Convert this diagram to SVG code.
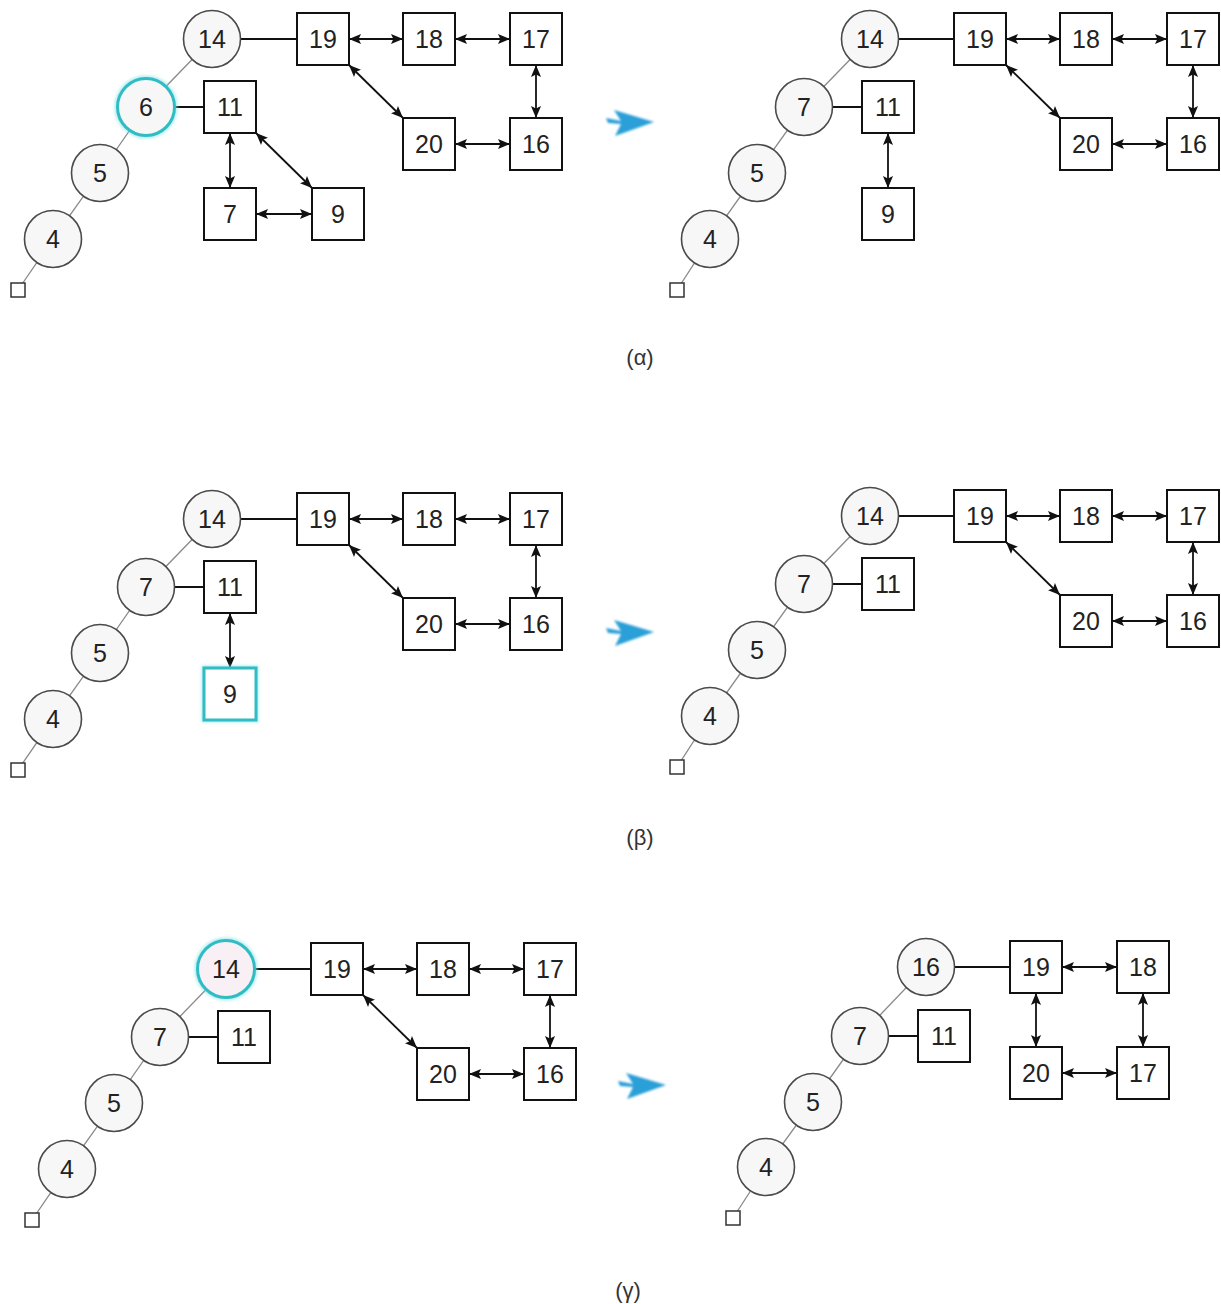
<svg xmlns="http://www.w3.org/2000/svg" width="1221" height="1304" viewBox="0 0 1221 1304">
  <defs>
    <style>
      .c { fill: #f7f7f7; stroke: #4a4a4a; stroke-width: 1.6; }
      .s { fill: #fff; stroke: #111; stroke-width: 2; }
      .nil { fill: #fff; stroke: #333; stroke-width: 1.5; }
      .hl { stroke: #2fbcc4; stroke-width: 3; }
      .t { font-family: "Liberation Sans", Arial, sans-serif; font-size: 25px; fill: #222; text-anchor: middle; }
      .cap { font-family: "Liberation Sans", Arial, sans-serif; font-size: 22px; fill: #333; text-anchor: middle; }
      .tree { stroke: #8a8a8a; stroke-width: 1.3; fill: none; }
      .link { stroke: #111; stroke-width: 1.8; fill: none; }
      .dbl { stroke: #111; stroke-width: 1.8; fill: none; marker-start: url(#ah); marker-end: url(#ah); }
      .step { fill: #2a9fd8; filter: url(#soft); }
    </style>
    <marker id="ah" viewBox="0 0 10 10" refX="10" refY="5" markerWidth="12" markerHeight="12" markerUnits="userSpaceOnUse" orient="auto-start-reverse">
      <path d="M0,0.8 L10,5 L0,9.2 L2,5 Z" fill="#111"/>
    </marker>
    <filter id="soft" x="-20%" y="-20%" width="140%" height="140%">
      <feGaussianBlur stdDeviation="1.2"/>
    </filter>
    <filter id="glow" x="-30%" y="-30%" width="160%" height="160%">
      <feGaussianBlur stdDeviation="1.5"/>
    </filter>
    <path id="stepArrow" d="M26,0 L-14,-12 L-7,-1 L-22,-4 L-20,1 L-7,2 L-13,14 Z"/>
  </defs>

  <rect width="1221" height="1304" fill="#ffffff"/>

  <!-- ===================== connectors ===================== -->
  <g id="connectors">
    <!-- (α) before -->
    <path class="tree" d="M212,39 L146,107 L100,173 L53,239 L18,290"/>
    <path class="link" d="M241,39 H297 M175,107 H204"/>
    <path class="dbl" d="M349,39 H403"/>
    <path class="dbl" d="M455,39 H510"/>
    <path class="dbl" d="M536,65 V118"/>
    <path class="dbl" d="M455,144 H510"/>
    <path class="dbl" d="M349,65 L403,118"/>
    <path class="dbl" d="M230,133 V188"/>
    <path class="dbl" d="M256,133 L312,188"/>
    <path class="dbl" d="M256,214 H312"/>

    <!-- (α) after -->
    <path class="tree" d="M870,39 L804,107 L757,173 L710,239 L677,290"/>
    <path class="link" d="M899,39 H954 M833,107 H862"/>
    <path class="dbl" d="M1006,39 H1060"/>
    <path class="dbl" d="M1112,39 H1167"/>
    <path class="dbl" d="M1193,65 V118"/>
    <path class="dbl" d="M1112,144 H1167"/>
    <path class="dbl" d="M1006,65 L1060,118"/>
    <path class="dbl" d="M888,133 V188"/>

    <!-- (β) before -->
    <path class="tree" d="M212,519 L146,587 L100,653 L53,719 L18,770"/>
    <path class="link" d="M241,519 H297 M175,587 H204"/>
    <path class="dbl" d="M349,519 H403"/>
    <path class="dbl" d="M455,519 H510"/>
    <path class="dbl" d="M536,545 V598"/>
    <path class="dbl" d="M455,624 H510"/>
    <path class="dbl" d="M349,545 L403,598"/>
    <path class="dbl" d="M230,613 V668"/>

    <!-- (β) after -->
    <path class="tree" d="M870,516 L804,584 L757,650 L710,716 L677,767"/>
    <path class="link" d="M899,516 H954 M833,584 H862"/>
    <path class="dbl" d="M1006,516 H1060"/>
    <path class="dbl" d="M1112,516 H1167"/>
    <path class="dbl" d="M1193,542 V595"/>
    <path class="dbl" d="M1112,621 H1167"/>
    <path class="dbl" d="M1006,542 L1060,595"/>

    <!-- (γ) before -->
    <path class="tree" d="M226,969 L160,1037 L114,1103 L67,1169 L32,1220"/>
    <path class="link" d="M255,969 H311 M189,1037 H218"/>
    <path class="dbl" d="M363,969 H417"/>
    <path class="dbl" d="M469,969 H524"/>
    <path class="dbl" d="M550,995 V1048"/>
    <path class="dbl" d="M469,1074 H524"/>
    <path class="dbl" d="M363,995 L417,1048"/>

    <!-- (γ) after -->
    <path class="tree" d="M926,967 L860,1036 L813,1102 L766,1167 L733,1218"/>
    <path class="link" d="M955,967 H1010 M889,1036 H918"/>
    <path class="dbl" d="M1062,967 H1117"/>
    <path class="dbl" d="M1036,993 V1047"/>
    <path class="dbl" d="M1143,993 V1047"/>
    <path class="dbl" d="M1062,1073 H1117"/>
  </g>

  <!-- ===================== (α) before ===================== -->
  <g id="a1-c14"><circle class="c" cx="212" cy="39" r="28.5"/><text class="t" x="212" y="48">14</text></g>
  <g id="a1-c6">
    <circle cx="146" cy="107" r="29" fill="none" stroke="#7fe0e4" stroke-width="5" filter="url(#glow)" opacity="0.6"/>
    <circle class="c hl" cx="146" cy="107" r="28.5"/><text class="t" x="146" y="116">6</text>
  </g>
  <g id="a1-c5"><circle class="c" cx="100" cy="173" r="28.5"/><text class="t" x="100" y="182">5</text></g>
  <g id="a1-c4"><circle class="c" cx="53" cy="239" r="28.5"/><text class="t" x="53" y="248">4</text></g>
  <g id="a1-nil"><rect class="nil" x="11" y="283" width="14" height="14"/></g>
  <g id="a1-s19"><rect class="s" x="297" y="13" width="52" height="52"/><text class="t" x="323" y="48">19</text></g>
  <g id="a1-s18"><rect class="s" x="403" y="13" width="52" height="52"/><text class="t" x="429" y="48">18</text></g>
  <g id="a1-s17"><rect class="s" x="510" y="13" width="52" height="52"/><text class="t" x="536" y="48">17</text></g>
  <g id="a1-s20"><rect class="s" x="403" y="118" width="52" height="52"/><text class="t" x="429" y="153">20</text></g>
  <g id="a1-s16"><rect class="s" x="510" y="118" width="52" height="52"/><text class="t" x="536" y="153">16</text></g>
  <g id="a1-s11"><rect class="s" x="204" y="81" width="52" height="52"/><text class="t" x="230" y="116">11</text></g>
  <g id="a1-s7"><rect class="s" x="204" y="188" width="52" height="52"/><text class="t" x="230" y="223">7</text></g>
  <g id="a1-s9"><rect class="s" x="312" y="188" width="52" height="52"/><text class="t" x="338" y="223">9</text></g>

  <!-- ===================== (α) after ===================== -->
  <g id="a2-c14"><circle class="c" cx="870" cy="39" r="28.5"/><text class="t" x="870" y="48">14</text></g>
  <g id="a2-c7"><circle class="c" cx="804" cy="107" r="28.5"/><text class="t" x="804" y="116">7</text></g>
  <g id="a2-c5"><circle class="c" cx="757" cy="173" r="28.5"/><text class="t" x="757" y="182">5</text></g>
  <g id="a2-c4"><circle class="c" cx="710" cy="239" r="28.5"/><text class="t" x="710" y="248">4</text></g>
  <g id="a2-nil"><rect class="nil" x="670" y="283" width="14" height="14"/></g>
  <g id="a2-s19"><rect class="s" x="954" y="13" width="52" height="52"/><text class="t" x="980" y="48">19</text></g>
  <g id="a2-s18"><rect class="s" x="1060" y="13" width="52" height="52"/><text class="t" x="1086" y="48">18</text></g>
  <g id="a2-s17"><rect class="s" x="1167" y="13" width="52" height="52"/><text class="t" x="1193" y="48">17</text></g>
  <g id="a2-s20"><rect class="s" x="1060" y="118" width="52" height="52"/><text class="t" x="1086" y="153">20</text></g>
  <g id="a2-s16"><rect class="s" x="1167" y="118" width="52" height="52"/><text class="t" x="1193" y="153">16</text></g>
  <g id="a2-s11"><rect class="s" x="862" y="81" width="52" height="52"/><text class="t" x="888" y="116">11</text></g>
  <g id="a2-s9"><rect class="s" x="862" y="188" width="52" height="52"/><text class="t" x="888" y="223">9</text></g>

  <g id="a-step"><use href="#stepArrow" class="step" transform="translate(628,122)"/></g>
  <g id="a-caption"><text class="cap" x="640" y="365">(α)</text></g>

  <!-- ===================== (β) before ===================== -->
  <g id="b1-c14"><circle class="c" cx="212" cy="519" r="28.5"/><text class="t" x="212" y="528">14</text></g>
  <g id="b1-c7"><circle class="c" cx="146" cy="587" r="28.5"/><text class="t" x="146" y="596">7</text></g>
  <g id="b1-c5"><circle class="c" cx="100" cy="653" r="28.5"/><text class="t" x="100" y="662">5</text></g>
  <g id="b1-c4"><circle class="c" cx="53" cy="719" r="28.5"/><text class="t" x="53" y="728">4</text></g>
  <g id="b1-nil"><rect class="nil" x="11" y="763" width="14" height="14"/></g>
  <g id="b1-s19"><rect class="s" x="297" y="493" width="52" height="52"/><text class="t" x="323" y="528">19</text></g>
  <g id="b1-s18"><rect class="s" x="403" y="493" width="52" height="52"/><text class="t" x="429" y="528">18</text></g>
  <g id="b1-s17"><rect class="s" x="510" y="493" width="52" height="52"/><text class="t" x="536" y="528">17</text></g>
  <g id="b1-s20"><rect class="s" x="403" y="598" width="52" height="52"/><text class="t" x="429" y="633">20</text></g>
  <g id="b1-s16"><rect class="s" x="510" y="598" width="52" height="52"/><text class="t" x="536" y="633">16</text></g>
  <g id="b1-s11"><rect class="s" x="204" y="561" width="52" height="52"/><text class="t" x="230" y="596">11</text></g>
  <g id="b1-s9">
    <rect x="204" y="668" width="52" height="52" fill="none" stroke="#7fe0e4" stroke-width="5" filter="url(#glow)" opacity="0.6"/>
    <rect class="s hl" x="204" y="668" width="52" height="52"/><text class="t" x="230" y="703">9</text>
  </g>

  <!-- ===================== (β) after ===================== -->
  <g id="b2-c14"><circle class="c" cx="870" cy="516" r="28.5"/><text class="t" x="870" y="525">14</text></g>
  <g id="b2-c7"><circle class="c" cx="804" cy="584" r="28.5"/><text class="t" x="804" y="593">7</text></g>
  <g id="b2-c5"><circle class="c" cx="757" cy="650" r="28.5"/><text class="t" x="757" y="659">5</text></g>
  <g id="b2-c4"><circle class="c" cx="710" cy="716" r="28.5"/><text class="t" x="710" y="725">4</text></g>
  <g id="b2-nil"><rect class="nil" x="670" y="760" width="14" height="14"/></g>
  <g id="b2-s19"><rect class="s" x="954" y="490" width="52" height="52"/><text class="t" x="980" y="525">19</text></g>
  <g id="b2-s18"><rect class="s" x="1060" y="490" width="52" height="52"/><text class="t" x="1086" y="525">18</text></g>
  <g id="b2-s17"><rect class="s" x="1167" y="490" width="52" height="52"/><text class="t" x="1193" y="525">17</text></g>
  <g id="b2-s20"><rect class="s" x="1060" y="595" width="52" height="52"/><text class="t" x="1086" y="630">20</text></g>
  <g id="b2-s16"><rect class="s" x="1167" y="595" width="52" height="52"/><text class="t" x="1193" y="630">16</text></g>
  <g id="b2-s11"><rect class="s" x="862" y="558" width="52" height="52"/><text class="t" x="888" y="593">11</text></g>

  <g id="b-step"><use href="#stepArrow" class="step" transform="translate(628,632)"/></g>
  <g id="b-caption"><text class="cap" x="640" y="845">(β)</text></g>

  <!-- ===================== (γ) before ===================== -->
  <g id="g1-c14">
    <circle cx="226" cy="969" r="29" fill="none" stroke="#7fe0e4" stroke-width="5" filter="url(#glow)" opacity="0.6"/>
    <circle class="c hl" cx="226" cy="969" r="28.5" style="fill:#f8f0f4"/><text class="t" x="226" y="978">14</text>
  </g>
  <g id="g1-c7"><circle class="c" cx="160" cy="1037" r="28.5"/><text class="t" x="160" y="1046">7</text></g>
  <g id="g1-c5"><circle class="c" cx="114" cy="1103" r="28.5"/><text class="t" x="114" y="1112">5</text></g>
  <g id="g1-c4"><circle class="c" cx="67" cy="1169" r="28.5"/><text class="t" x="67" y="1178">4</text></g>
  <g id="g1-nil"><rect class="nil" x="25" y="1213" width="14" height="14"/></g>
  <g id="g1-s19"><rect class="s" x="311" y="943" width="52" height="52"/><text class="t" x="337" y="978">19</text></g>
  <g id="g1-s18"><rect class="s" x="417" y="943" width="52" height="52"/><text class="t" x="443" y="978">18</text></g>
  <g id="g1-s17"><rect class="s" x="524" y="943" width="52" height="52"/><text class="t" x="550" y="978">17</text></g>
  <g id="g1-s20"><rect class="s" x="417" y="1048" width="52" height="52"/><text class="t" x="443" y="1083">20</text></g>
  <g id="g1-s16"><rect class="s" x="524" y="1048" width="52" height="52"/><text class="t" x="550" y="1083">16</text></g>
  <g id="g1-s11"><rect class="s" x="218" y="1011" width="52" height="52"/><text class="t" x="244" y="1046">11</text></g>

  <!-- ===================== (γ) after ===================== -->
  <g id="g2-c16"><circle class="c" cx="926" cy="967" r="28.5"/><text class="t" x="926" y="976">16</text></g>
  <g id="g2-c7"><circle class="c" cx="860" cy="1036" r="28.5"/><text class="t" x="860" y="1045">7</text></g>
  <g id="g2-c5"><circle class="c" cx="813" cy="1102" r="28.5"/><text class="t" x="813" y="1111">5</text></g>
  <g id="g2-c4"><circle class="c" cx="766" cy="1167" r="28.5"/><text class="t" x="766" y="1176">4</text></g>
  <g id="g2-nil"><rect class="nil" x="726" y="1211" width="14" height="14"/></g>
  <g id="g2-s19"><rect class="s" x="1010" y="941" width="52" height="52"/><text class="t" x="1036" y="976">19</text></g>
  <g id="g2-s18"><rect class="s" x="1117" y="941" width="52" height="52"/><text class="t" x="1143" y="976">18</text></g>
  <g id="g2-s20"><rect class="s" x="1010" y="1047" width="52" height="52"/><text class="t" x="1036" y="1082">20</text></g>
  <g id="g2-s17"><rect class="s" x="1117" y="1047" width="52" height="52"/><text class="t" x="1143" y="1082">17</text></g>
  <g id="g2-s11"><rect class="s" x="918" y="1010" width="52" height="52"/><text class="t" x="944" y="1045">11</text></g>

  <g id="g-step"><use href="#stepArrow" class="step" transform="translate(640,1085)"/></g>
  <g id="g-caption"><text class="cap" x="628" y="1298">(γ)</text></g>
</svg>
